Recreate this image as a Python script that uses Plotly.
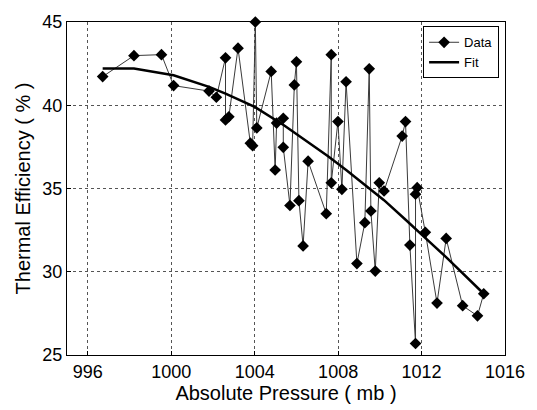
import plotly.graph_objects as go

# Measured data (absolute pressure in mb, thermal efficiency in %)
pressure = [996.71, 998.21, 999.53, 1000.11, 1001.81, 1002.16, 1002.60, 1002.60, 1002.76,
            1003.20, 1003.79, 1003.90, 1004.03, 1004.10, 1004.79, 1004.98, 1005.05, 1005.37,
            1005.37, 1005.69, 1005.90, 1006.00, 1006.12, 1006.32, 1006.56, 1007.43, 1007.67,
            1007.67, 1007.99, 1008.18, 1008.38, 1008.90, 1009.28, 1009.49, 1009.57, 1009.78,
            1009.97, 1010.20, 1011.07, 1011.23, 1011.44, 1011.71, 1011.71, 1011.79, 1012.18,
            1012.74, 1013.18, 1013.97, 1014.68, 1014.98]
efficiency = [41.72, 42.98, 43.04, 41.18, 40.85, 40.48, 42.85, 39.12, 39.31,
              43.43, 37.72, 37.57, 45.00, 38.64, 42.03, 36.11, 38.93, 39.22,
              37.47, 33.98, 41.22, 42.61, 34.27, 31.55, 36.64, 33.49, 43.04,
              35.34, 39.02, 34.95, 41.41, 30.49, 32.95, 42.19, 33.65, 30.04,
              35.34, 34.85, 38.15, 39.02, 31.60, 25.69, 34.66, 35.05, 32.37,
              28.12, 32.00, 27.96, 27.35, 28.68]

# Fit curve values
fit_x = [996.71, 998.21, 1000.11, 1001.81, 1002.60, 1004.00, 1005.40, 1006.50, 1007.50,
         1008.40, 1009.60, 1010.20, 1011.30, 1011.70, 1012.20, 1013.20, 1014.00, 1014.98]
fit_y = [42.20, 42.20, 41.80, 41.10, 40.70, 39.90, 38.80, 37.85, 36.95,
         36.10, 34.90, 34.30, 33.05, 32.60, 32.00, 30.85, 29.90, 28.68]

x_ticks = [996, 1000, 1004, 1008, 1012, 1016]
y_ticks = [25, 30, 35, 40, 45]

font_family = "Liberation Sans, Arial, sans-serif"

fig = go.Figure()
fig.add_trace(go.Scatter(
    x=pressure, y=efficiency, mode="lines+markers", name="Data",
    line=dict(color="#3a3a3a", width=1),
    marker=dict(symbol="diamond", size=9, color="black"),
    cliponaxis=False,
))
fig.add_trace(go.Scatter(
    x=fit_x, y=fit_y, mode="lines", name="Fit",
    line=dict(color="black", width=2.5),
))

axis_common = dict(
    showline=True, linecolor="black", linewidth=1, mirror=True,
    ticks="inside", ticklen=4, tickcolor="black",
    showgrid=True, gridcolor="#555555", gridwidth=1, griddash="3px,3px",
    zeroline=False,
    tickfont=dict(family=font_family, size=18, color="black"),
)

fig.update_xaxes(
    range=[995.0, 1016.0], tickvals=x_ticks, ticktext=[str(v) for v in x_ticks],
    title=dict(text="Absolute Pressure ( mb )", font=dict(family=font_family, size=20, color="black"), standoff=2),
    **axis_common,
)
fig.update_yaxes(
    range=[25, 45], tickvals=y_ticks, ticktext=[str(v) for v in y_ticks],
    title=dict(text="Thermal Efficiency ( % )", font=dict(family=font_family, size=20, color="black"), standoff=6),
    **axis_common,
)

fig.update_layout(
    width=537, height=410,
    margin=dict(l=67, r=28, t=19, b=48),
    paper_bgcolor="white", plot_bgcolor="white",
    font=dict(family=font_family, color="black"),
    showlegend=True,
    legend=dict(
        x=0.813, y=0.987, xanchor="left", yanchor="top",
        bgcolor="white", bordercolor="black", borderwidth=1,
        font=dict(family=font_family, size=13, color="black"),
        itemwidth=30, tracegroupgap=0,
    ),
)

fig.write_html("out.html")
